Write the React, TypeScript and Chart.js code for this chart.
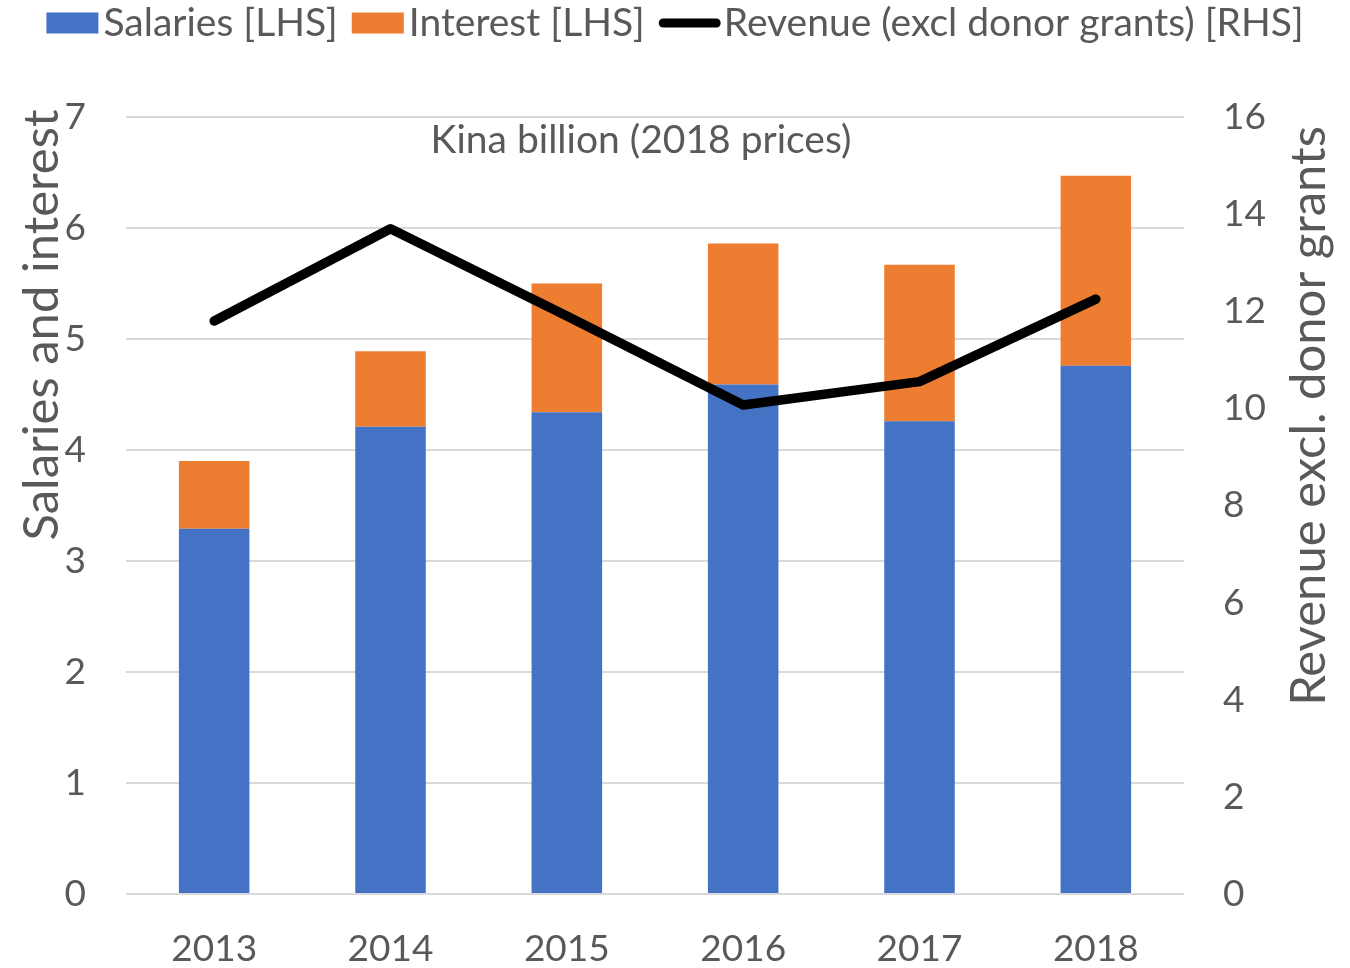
import React, { useEffect, useRef } from "react";
import { Chart, registerables } from "chart.js";

Chart.register(...registerables);

const years = ["2013", "2014", "2015", "2016", "2017", "2018"];
const salaries = [3.29, 4.21, 4.34, 4.59, 4.26, 4.76];
const interest = [0.61, 0.68, 1.16, 1.27, 1.41, 1.71];
const revenue = [11.8, 13.7, 11.9, 10.07, 10.55, 12.25];

const legendLabels = ["Salaries [LHS]", "Interest [LHS]", "Revenue (excl donor grants) [RHS]"];
const chartTitle = "Kina billion (2018 prices)";
const leftTitle = "Salaries and interest";
const rightTitle = "Revenue excl. donor grants";

const BLUE = "#4472C4";
const ORANGE = "#ED7D31";
const TEXT = "#595959";
const FONT = "Lato";

const overlayPlugin = {
  id: "overlay",
  afterDraw(chart: any) {
    const ctx = chart.ctx as CanvasRenderingContext2D;
    ctx.save();
    ctx.fillStyle = TEXT;

    // Legend
    ctx.font = `39px ${FONT}`;
    ctx.textBaseline = "middle";
    ctx.textAlign = "left";
    const w = legendLabels.map((t) => ctx.measureText(t).width);
    const boxW = 52;
    const lineW = 62;
    const total = boxW + 5 + w[0] + 14 + boxW + 5 + w[1] + 14 + lineW + 3 + w[2];
    let x = 675 - total / 2;
    const ly = 23;
    ctx.fillStyle = BLUE;
    ctx.fillRect(x, ly - 10.5, boxW, 21);
    x += boxW + 5;
    ctx.fillStyle = TEXT;
    ctx.fillText(legendLabels[0], x, ly);
    x += w[0] + 14;
    ctx.fillStyle = ORANGE;
    ctx.fillRect(x, ly - 10.5, boxW, 21);
    x += boxW + 5;
    ctx.fillStyle = TEXT;
    ctx.fillText(legendLabels[1], x, ly);
    x += w[1] + 14;
    ctx.strokeStyle = "#000";
    ctx.lineWidth = 9;
    ctx.lineCap = "round";
    ctx.beginPath();
    ctx.moveTo(x + 4.5, ly);
    ctx.lineTo(x + lineW - 4.5, ly);
    ctx.stroke();
    x += lineW + 3;
    ctx.fillText(legendLabels[2], x, ly);

    // Title inside plot
    ctx.font = `39px ${FONT}`;
    ctx.textAlign = "center";
    ctx.fillText(chartTitle, 641, 140);

    // Axis titles
    ctx.font = `49px ${FONT}`;
    ctx.save();
    ctx.translate(42, 325);
    ctx.rotate(-Math.PI / 2);
    ctx.fillText(leftTitle, 0, 0);
    ctx.restore();
    ctx.save();
    ctx.translate(1309, 416);
    ctx.rotate(-Math.PI / 2);
    ctx.fillText(rightTitle, 0, 0);
    ctx.restore();

    ctx.restore();
  },
};

export default function App() {
  const ref = useRef<HTMLCanvasElement>(null);
  useEffect(() => {
    const chart = new Chart(ref.current as HTMLCanvasElement, {
      type: "bar",
      data: {
        labels: years,
        datasets: [
          {
            type: "line",
            label: legendLabels[2],
            data: revenue,
            yAxisID: "y1",
            borderColor: "#000",
            backgroundColor: "#000",
            borderWidth: 9.5,
            borderCapStyle: "round",
            borderJoinStyle: "round",
            pointRadius: 0,
            tension: 0,
            order: 0,
          } as any,
          {
            label: legendLabels[0],
            data: salaries,
            backgroundColor: BLUE,
            yAxisID: "y",
            stack: "s",
            order: 1,
          },
          {
            label: legendLabels[1],
            data: interest,
            backgroundColor: ORANGE,
            yAxisID: "y",
            stack: "s",
            order: 1,
          },
        ],
      },
      options: {
        animation: false,
        responsive: true,
        maintainAspectRatio: false,
        layout: { padding: { top: 117, left: 0, right: 0, bottom: 0 } },
        datasets: { bar: { barPercentage: 0.4, categoryPercentage: 1 } },
        plugins: {
          legend: { display: false },
          title: { display: false },
          tooltip: { enabled: false },
        },
        scales: {
          x: {
            stacked: true,
            grid: { display: false, drawTicks: false },
            border: { display: false },
            ticks: { color: TEXT, font: { family: FONT, size: 37 }, padding: 33 },
            afterFit: (s: any) => {
              s.height = 74;
            },
          },
          y: {
            stacked: true,
            position: "left",
            min: 0,
            max: 7,
            ticks: { stepSize: 1, color: TEXT, font: { family: FONT, size: 37 }, padding: 40 },
            grid: { color: "#d9d9d9", lineWidth: 2, drawTicks: false },
            border: { display: false },
            afterFit: (s: any) => {
              s.width = 126;
            },
          },
          y1: {
            position: "right",
            min: 0,
            max: 16,
            ticks: { stepSize: 2, color: TEXT, font: { family: FONT, size: 37 }, padding: 39 },
            grid: { display: false, drawTicks: false },
            border: { display: false },
            afterFit: (s: any) => {
              s.width = 166;
            },
          },
        },
      },
      plugins: [overlayPlugin],
    } as any);
    return () => chart.destroy();
  }, []);
  return (
    <div style={{ position: "absolute", left: 0, top: 0, width: 1350, height: 968, background: "#fff" }}>
      <canvas ref={ref} />
    </div>
  );
}
